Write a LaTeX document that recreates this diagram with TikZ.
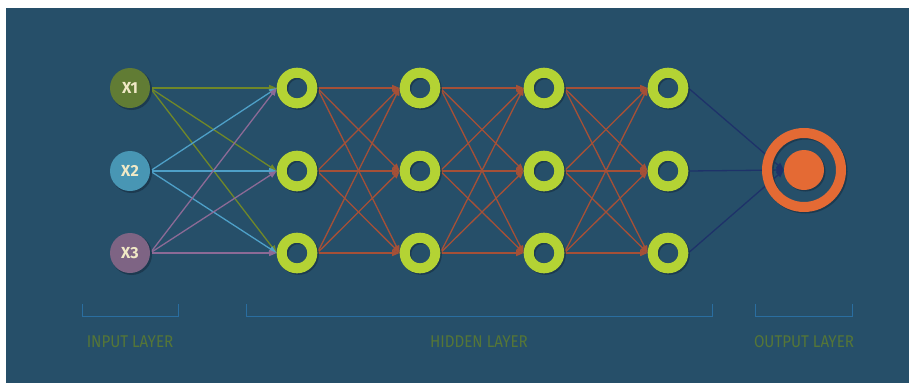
\documentclass[tikz,border=0pt]{standalone}
\usepackage{fontspec}
\setmainfont{Fira Sans}
\newfontfamily\lblfont{Fira Sans}[FakeStretch=0.89]
\usetikzlibrary{arrows.meta,backgrounds}
\definecolor{bgc}{RGB}{38,79,105}
\definecolor{shc}{RGB}{28,58,80}
\definecolor{ringc}{RGB}{180,211,52}
\definecolor{xonec}{RGB}{97,124,52}
\definecolor{xtwoc}{RGB}{72,150,180}
\definecolor{xthreec}{RGB}{126,100,132}
\definecolor{creamc}{RGB}{240,233,198}
\definecolor{orc}{RGB}{228,106,52}
\definecolor{aonec}{RGB}{112,136,40}
\definecolor{atwoc}{RGB}{78,160,200}
\definecolor{athreec}{RGB}{140,106,150}
\definecolor{hidc}{RGB}{165,80,55}
\definecolor{outc}{RGB}{30,50,105}
\definecolor{brc}{RGB}{42,110,160}
\definecolor{lblc}{RGB}{85,118,55}
\tikzset{
  innode/.style={circle, minimum size=40pt, inner sep=0pt, text=creamc,
    font=\fontsize{16}{17}\selectfont\bfseries},
  hid/.style={circle, draw=ringc, line width=10pt, minimum size=30.6pt, inner sep=0pt},
  outring/.style={circle, draw=orc, line width=10pt, minimum size=74pt, inner sep=0pt},
  outdisc/.style={circle, fill=orc, minimum size=40pt, inner sep=0pt},
  conn/.style={line width=1.3pt, -{Triangle[length=7.5pt,width=6pt]}},
  bracket/.style={draw=brc, line width=1pt},
  lbl/.style={text=lblc, font=\lblfont\fontsize{17}{18}\selectfont, inner sep=0pt}
}
\begin{document}
\begin{tikzpicture}[x=1pt,y=-1pt]
\useasboundingbox (0,0) rectangle (909,383);
% input nodes
\node[innode, fill=xonec] (x1) at (130,88) {X1};
\node[innode, fill=xtwoc] (x2) at (130,171) {X2};
\node[innode, fill=xthreec] (x3) at (130,253) {X3};
% hidden nodes
\foreach \c/\x in {1/297,2/420,3/544,4/668}
  \foreach \r/\y in {1/88,2/171,3/253}
    \node[hid] (h\c\r) at (\x,\y) {};
% output
\node[outring] (oring) at (804,170) {};
\node[outdisc] (out) at (804,170) {};
% labels
\node[lbl] (linput) at (130,342) {INPUT LAYER};
\node[lbl] (lhidden) at (479,342) {HIDDEN LAYER};
\node[lbl] (loutput) at (804,342) {OUTPUT LAYER};
\begin{scope}[on background layer]
\fill[white] (0,0) rectangle (909,383);
\fill[bgc] (6,8) rectangle (909,383);
% brackets
\draw[bracket] (82,304) -- (82,316) -- (178,316) -- (178,304);
\draw[bracket] (246,304) -- (246,316) -- (712,316) -- (712,304);
\draw[bracket] (755,304) -- (755,316) -- (852,316) -- (852,304);
% connectors
\foreach \r in {1,2,3} \draw[conn, aonec] (x1.east) -- (h1\r.west);
\foreach \r in {1,2,3} \draw[conn, atwoc] (x2.east) -- (h1\r.west);
\foreach \r in {1,2,3} \draw[conn, athreec] (x3.east) -- (h1\r.west);
\foreach \c/\n in {1/2,2/3,3/4}
  \foreach \a in {1,2,3}
    \foreach \b in {1,2,3}
      \draw[conn, hidc] (h\c\a.east) -- (h\n\b.west);
\foreach \a in {1,2,3} \draw[conn, outc] (h4\a.east) -- (out.west);
% shadows
\foreach \n in {x1,x2,x3} \fill[shc] ([shift={(1.5,1.5)}]\n.center) circle (20.5);
\foreach \c in {1,2,3,4}
  \foreach \r in {1,2,3}
    \draw[shc, line width=10pt] ([shift={(1.5,1.5)}]h\c\r.center) circle (15.3);
\draw[shc, line width=10pt] ([shift={(1.5,1.5)}]oring.center) circle (37);
\fill[shc] ([shift={(1.5,1.5)}]out.center) circle (20);
\end{scope}
\end{tikzpicture}
\end{document}
